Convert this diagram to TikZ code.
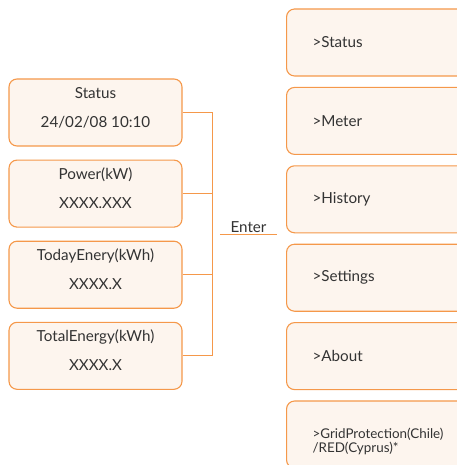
\documentclass[tikz,border=0pt]{standalone}
\usepackage{fontspec}
\setmainfont{Lato}
\usetikzlibrary{positioning}
\definecolor{boxline}{RGB}{245,152,74}
\definecolor{boxfill}{RGB}{253,245,238}
\definecolor{txtgray}{RGB}{51,51,51}

\begin{document}
\begin{tikzpicture}[
			x=1pt, y=-1pt,
			% styles for the boxes
			info/.style={
				rectangle,
				draw=boxline,
				fill=boxfill,
				line width=1.1pt,
				rounded corners=8pt,
				minimum width=173pt,
				minimum height=67pt,
				inner sep=0pt,
				text depth=11pt,
				align=center,
				text=txtgray,
				font=\fontsize{15.2}{18}\selectfont
			},
			menu/.style={
				rectangle,
				draw=boxline,
				fill=boxfill,
				line width=1.1pt,
				rounded corners=8pt,
				minimum height=67pt,
				text width=150pt,
				inner xsep=26pt,
				align=left,
				anchor=west,
				text=txtgray,
				font=\fontsize{15.2}{18}\selectfont
			},
			% style for the lines
			link/.style={
				draw=boxline,
				line width=1.1pt
			}
			]
			\useasboundingbox (0,0) rectangle (456,465);
			
			% left column
			\node[info] (stat) at (95.5,112.5) {Status\\[11pt]24/02/08 10:10};
			\node[info, below=13pt of stat] (power) {Power(kW)\\[11pt]XXXX.XXX};
			\node[info, below=13pt of power] (today) {TodayEnery(kWh)\\[11pt]XXXX.X};
			\node[info, below=13pt of today] (total) {TotalEnergy(kWh)\\[11pt]XXXX.X};
			
			% right column
			\node[menu] (mstatus) at (286,42.5) {>Status};
			\node[menu, below=10.3pt of mstatus.south west, anchor=north west] (mmeter) {>Meter};
			\node[menu, below=10.3pt of mmeter.south west, anchor=north west] (mhistory) {>History};
			\node[menu, below=10.3pt of mhistory.south west, anchor=north west] (msettings) {>Settings};
			\node[menu, below=10.3pt of msettings.south west, anchor=north west] (mabout) {>About};
			\node[menu, below=10.3pt of mabout.south west, anchor=north west, text height=24pt,
				font=\fontsize{13.4}{14}\selectfont] (mgrid) {>GridProtection(Chile)\\/RED(Cyprus)*};
			
			% joining lines
			\coordinate (b1) at ([xshift=29.5pt]stat.east);
			\coordinate (b2) at ([xshift=29.5pt]power.east);
			\coordinate (b3) at ([xshift=29.5pt]today.east);
			\coordinate (b4) at ([xshift=29.5pt]total.east);
			\draw[link] (stat.east) -- (b1);
			\draw[link] (power.east) -- (b2);
			\draw[link] (today.east) -- (b3);
			\draw[link] (total.east) -- (b4);
			\draw[link] (b1) -- (b4);
			
			\node[text=txtgray, font=\fontsize{15.2}{18}\selectfont, minimum width=57pt,
				inner sep=1.5pt] (enter) at (248.5,227.5) {Enter};
			\draw[link] (enter.south west) -- (enter.south east);
			
		\end{tikzpicture}
\end{document}
